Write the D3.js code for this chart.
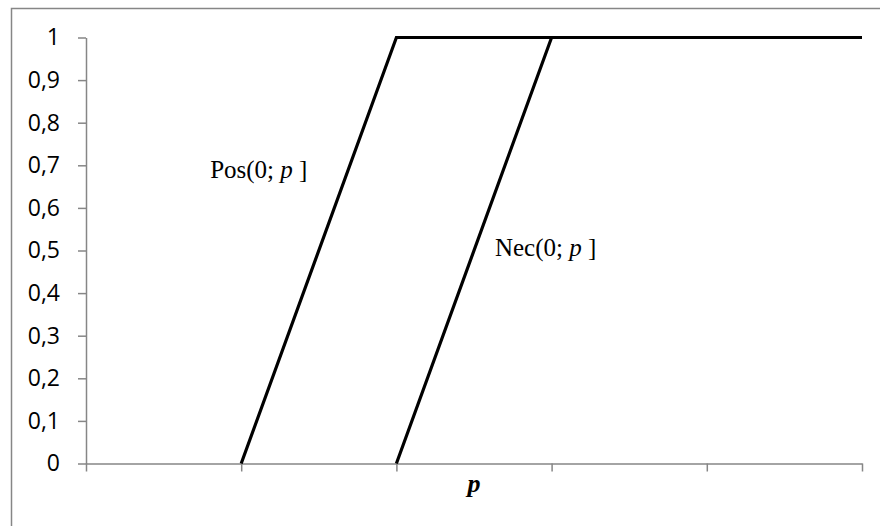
<!DOCTYPE html>
<html>
<head>
<meta charset="utf-8">
<script src="https://cdn.jsdelivr.net/npm/d3@7"></script>
<style>
  html, body { margin: 0; padding: 0; background: #fff; }
  svg { display: block; }
</style>
</head>
<body>
<svg id="chart" width="880" height="526"></svg>
<script>
// Data
const xTicks = [0, 1, 2, 3, 4, 5];
const yTicks = [0, 0.1, 0.2, 0.3, 0.4, 0.5, 0.6, 0.7, 0.8, 0.9, 1];
const posX = [1, 2, 5];
const posY = [0, 1, 1];
const necX = [2, 3, 5];
const necY = [0, 1, 1];
const posLabel = { x: 0.80, y: 0.67 };
const necLabel = { x: 2.635, y: 0.487 };
const xTitle = "p";

const svg = d3.select("#chart");
const axisColor = "#868686";

// outer frame (only top/left visible in the picture)
svg.append("rect")
  .attr("x", 11.5).attr("y", 8.5)
  .attr("width", 900).attr("height", 600)
  .attr("fill", "none").attr("stroke", axisColor).attr("stroke-width", 1.5);

const x = d3.scaleLinear().domain([0, 5]).range([86, 862]);
const y = d3.scaleLinear().domain([0, 1]).range([463.5, 37.5]);

// Y axis
const yAxis = d3.axisLeft(y).tickValues(yTicks).tickSize(8).tickSizeOuter(0)
  .tickFormat(d => d3.format(".1~f")(d).replace(".", ","));
const gy = svg.append("g").attr("transform", "translate(86,0)").call(yAxis);
gy.selectAll("path, line").attr("stroke", axisColor).attr("stroke-width", 1.5);
gy.selectAll("text")
  .attr("font-family", "'Open Sans', sans-serif").attr("font-size", 23)
  .attr("fill", "#000").attr("x", -26);

// X axis
const xAxis = d3.axisBottom(x).tickValues(xTicks).tickSize(8).tickSizeOuter(0).tickFormat("");
const gx = svg.append("g").attr("transform", `translate(0,${y(0)})`).call(xAxis);
gx.selectAll("path, line").attr("stroke", axisColor).attr("stroke-width", 1.5);

// lines
const line = d3.line().x(d => x(d[0])).y(d => y(d[1]));
const posData = posX.map((v, i) => [v, posY[i]]);
const necData = necX.map((v, i) => [v, necY[i]]);
[necData, posData].forEach(d => {
  svg.append("path").datum(d).attr("d", line)
    .attr("fill", "none").attr("stroke", "#000").attr("stroke-width", 3.2)
    .attr("stroke-linejoin", "miter");
});

// labels
function seriesLabel(name, pos) {
  const t = svg.append("text")
    .attr("x", x(pos.x)).attr("y", y(pos.y))
    .attr("font-family", "'Liberation Serif', 'Times New Roman', serif")
    .attr("font-size", 25).attr("fill", "#000");
  t.append("tspan").text(name + "(0; ");
  t.append("tspan").attr("font-style", "italic").text("p");
  t.append("tspan").text(" ]");
}
seriesLabel("Pos", posLabel);
seriesLabel("Nec", necLabel);

svg.append("text")
  .attr("x", (x(0) + x(5)) / 2).attr("y", 492)
  .attr("text-anchor", "middle")
  .attr("font-family", "'Liberation Serif', 'Times New Roman', serif")
  .attr("font-size", 26).attr("font-weight", "bold").attr("font-style", "italic")
  .text(xTitle);
</script>
</body>
</html>
